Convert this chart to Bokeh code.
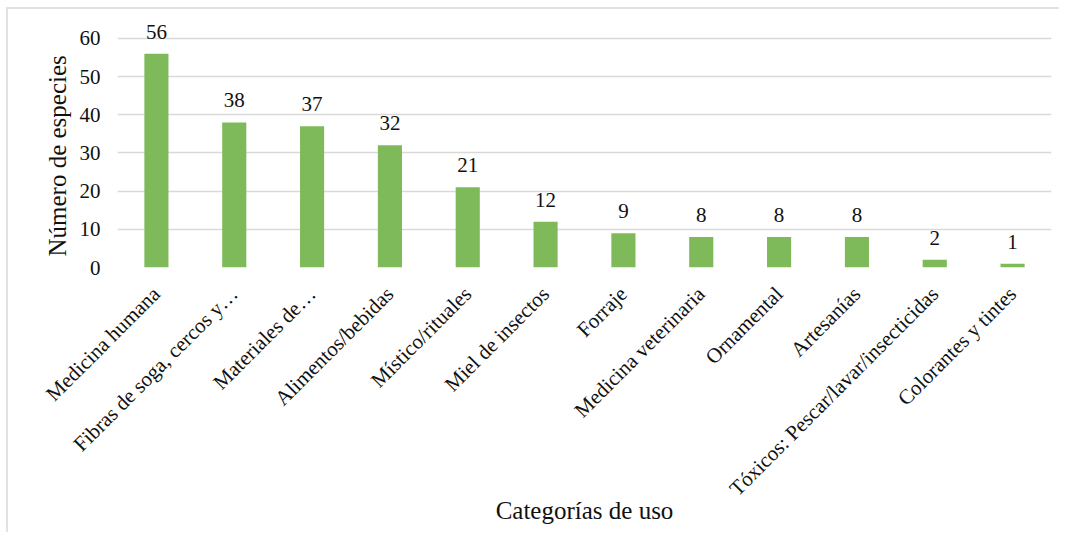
from math import pi
from bokeh.plotting import figure
from bokeh.models import ColumnDataSource, FactorRange, LabelSet, Range1d, FixedTicker, Title
from bokeh.embed import file_html
from bokeh.resources import INLINE

categories = [
    "Medicina humana",
    "Fibras de soga, cercos y…",
    "Materiales de…",
    "Alimentos/bebidas",
    "Místico/rituales",
    "Miel de insectos",
    "Forraje",
    "Medicina veterinaria",
    "Ornamental",
    "Artesanías",
    "Tóxicos: Pescar/lavar/insecticidas",
    "Colorantes y tintes",
]
values = [56, 38, 37, 32, 21, 12, 9, 8, 8, 8, 2, 1]
y_ticks = [0, 10, 20, 30, 40, 50, 60]

FONT = "Liberation Serif"
BAR = "#7fba5a"
GRID = "#d9d9d9"
TEXT = "#111111"

source = ColumnDataSource(dict(cat=categories, val=values, lab=[str(v) for v in values]))

p = figure(
    x_range=FactorRange(*categories, range_padding=0),
    y_range=Range1d(0, 66),
    width=1053, height=525,
    output_backend="svg", toolbar_location=None,
    min_border_left=109, min_border_right=10,
    min_border_top=6, min_border_bottom=267,
)
p.styles = {"margin-left": "6px", "margin-top": "7px",
            "border-left": "2px solid #e2e2e2", "border-top": "2px solid #e2e2e2"}
p.outline_line_color = None
p.background_fill_color = "white"
p.border_fill_color = "white"

p.vbar(x="cat", top="val", width=0.31, source=source, fill_color=BAR, line_color=None)

labels = LabelSet(x="cat", y="val", text="lab", source=source, text_align="center",
                  text_baseline="bottom", y_offset=15, text_font=FONT,
                  text_font_size="21px", text_color=TEXT)
p.add_layout(labels)

p.xgrid.grid_line_color = None
p.ygrid.grid_line_color = GRID
p.ygrid.grid_line_width = 1.5
p.yaxis.ticker = FixedTicker(ticks=y_ticks)

for ax in (p.xaxis[0], p.yaxis[0]):
    ax.axis_line_color = None
    ax.major_tick_line_color = None
    ax.minor_tick_line_color = None
    ax.major_label_text_font = FONT
    ax.major_label_text_font_size = "21px"
    ax.major_label_text_color = TEXT
    ax.axis_label_text_font = FONT
    ax.axis_label_text_font_size = "25px"
    ax.axis_label_text_font_style = "normal"
    ax.axis_label_text_color = TEXT

p.xaxis.major_label_orientation = pi / 4
p.xaxis.major_label_standoff = 17
p.xaxis.axis_label = "Categorías de uso"
p.xaxis.axis_label_standoff = -15

p.yaxis.major_label_standoff = 11

ytitle = Title(text="Número de especies", align="left", offset=11,
               text_font=FONT, text_font_size="25px", text_font_style="normal",
               text_color=TEXT, standoff=12)
p.add_layout(ytitle, "left")

open("out.html", "w").write(file_html(p, INLINE))
